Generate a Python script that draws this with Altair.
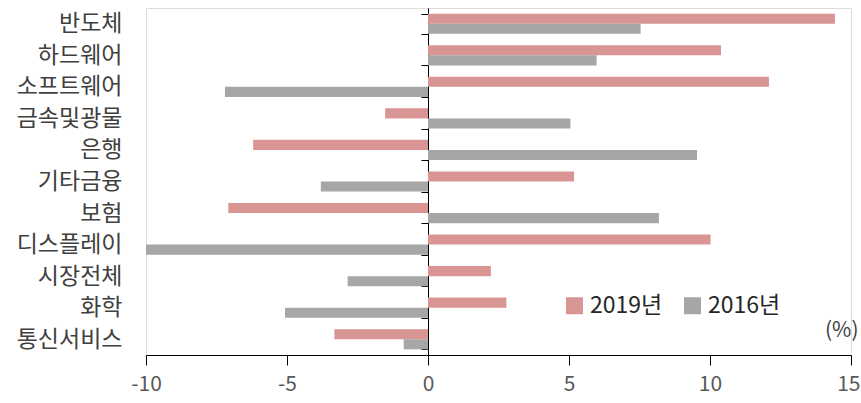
import altair as alt
import pandas as pd

categories = ["반도체", "하드웨어", "소프트웨어", "금속및광물", "은행", "기타금융",
              "보험", "디스플레이", "시장전체", "화학", "통신서비스"]
years = ["2019년", "2016년"]
v2019 = [14.43, 10.39, 12.09, -1.52, -6.2, 5.18, -7.08, 10.02, 2.23, 2.78, -3.32]
v2016 = [7.54, 5.98, -7.2, 5.05, 9.54, -3.8, 8.19, -10.0, -2.85, -5.07, -0.86]
x_ticks = [-10, -5, 0, 5, 10, 15]
colors = ["#D99594", "#A6A6A6"]

rows = []
for c, a, b in zip(categories, v2019, v2016):
    rows.append({"cat": c, "year": years[0], "val": a})
    rows.append({"cat": c, "year": years[1], "val": b})
df = pd.DataFrame(rows)

FONT = "Noto Sans CJK KR"
yscale = alt.Scale(paddingInner=0.36, paddingOuter=0.18)

chart = alt.Chart(df).mark_bar().encode(
    y=alt.Y("cat:N", sort=categories, scale=yscale,
            axis=alt.Axis(title=None, offset=-282, domain=True, ticks=True,
                          tickBand="extent", tickSize=7, domainColor="#000000",
                          tickColor="#000000", labelFontSize=23,
                          labelPadding=299, labelColor="#404040", labelFont=FONT)),
    x=alt.X("val:Q", scale=alt.Scale(domain=[-10, 15], nice=False),
            axis=alt.Axis(values=x_ticks, grid=False, title="(%)", titleX=712, titleY=-25,
                          titleAlign="right", titleBaseline="middle", titleFontSize=21,
                          titleFontWeight="normal", titleColor="#404040", titleFont=FONT,
                          labelFontSize=21, labelColor="#595959", labelFont=FONT,
                          labelExpr="datum.value + ''",
                          labelAlign={"condition": {"test": "datum.value == 15", "value": "right"},
                                      "value": "center"},
                          labelOffset={"condition": {"test": "datum.value == 15", "value": 9},
                                       "value": 0},
                          labelPadding=8, tickSize=10, domainColor="#000000",
                          tickColor="#000000", labelFlush=False)),
    yOffset=alt.YOffset("year:N", sort=years),
    color=alt.Color("year:N", sort=years,
                    scale=alt.Scale(domain=years, range=colors),
                    legend=alt.Legend(orient="none", legendX=417, legendY=286,
                                      direction="horizontal", title=None,
                                      symbolType="square", symbolSize=289,
                                      symbolStrokeWidth=0, labelFontSize=23,
                                      labelFont=FONT, labelColor="#262626",
                                      columnPadding=18, labelOffset=4)),
).properties(
    width=705, height=347,
    autosize=alt.AutoSizeParams(type="none"),
    padding={"left": 146, "top": 8, "right": 10, "bottom": 48},
).configure_view(stroke=None).configure(font=FONT)

chart.save("out.html", embed_options={"renderer": "svg", "actions": False})
